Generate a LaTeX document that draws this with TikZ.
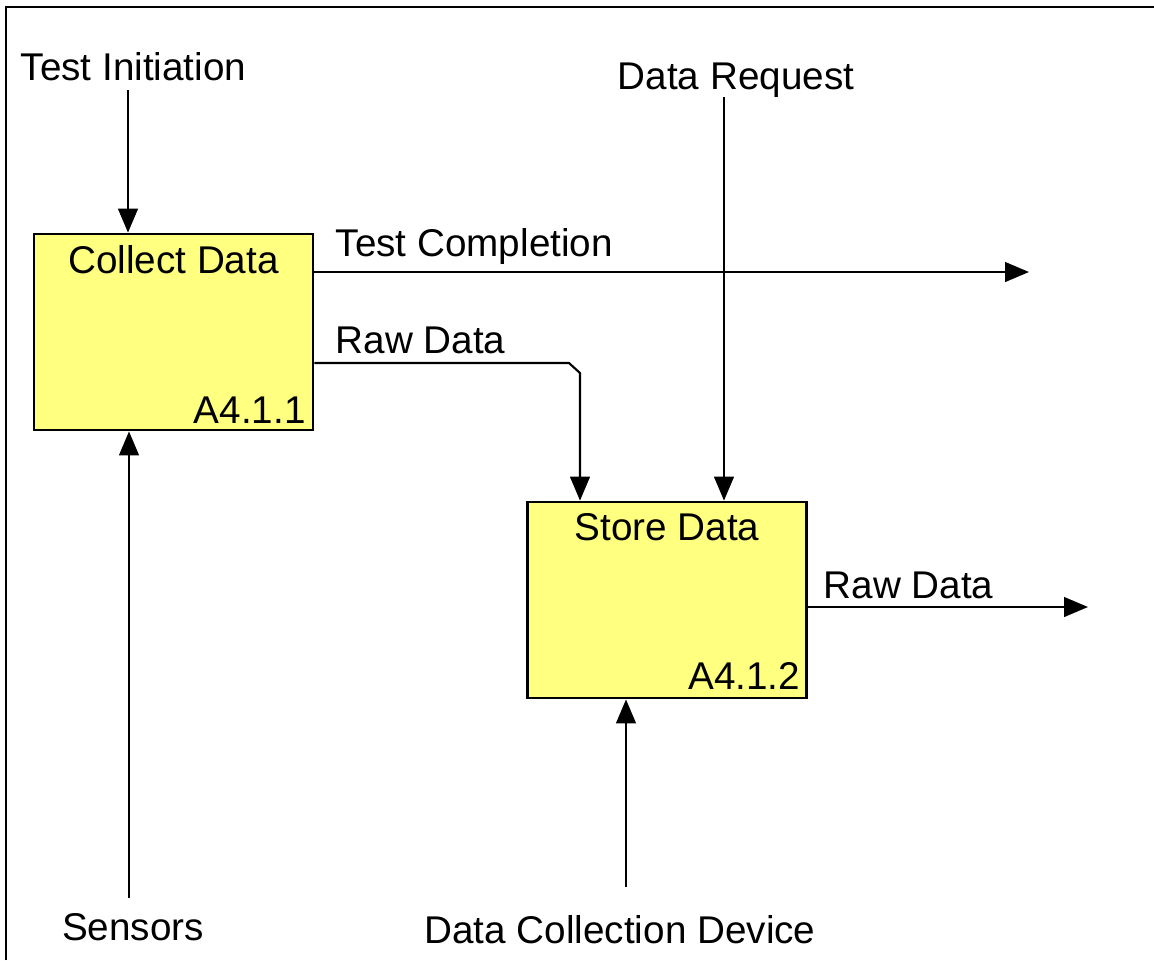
\documentclass[tikz,border=0pt]{standalone}
\usepackage{fontspec}
\setmainfont{Liberation Sans}
\usetikzlibrary{arrows.meta}
\definecolor{idefyellow}{RGB}{255,255,128}
\tikzset{
  idef box/.style={rectangle, draw=black, fill=idefyellow, line width=0.8pt, minimum width=2.79cm, minimum height=1.96cm, inner sep=0pt},
  idef flow/.style={-{Triangle[length=6.8pt,width=5.6pt]}, draw=black, line width=0.6pt},
  idef label/.style={inner sep=0pt, font=\fontsize{11}{13}\selectfont},
  idef frame/.style={draw=black, line width=0.7pt},
}

\begin{document}
\begin{tikzpicture}
    \useasboundingbox (0,0) rectangle (11.54,-9.60);
    \draw[idef frame] (0.06,-9.60) -- (0.06,-0.07) -- (11.54,-0.07);

    \node (collect) [idef box] at (1.735,-3.32) {};
    \node (store) [idef box] at (6.67,-6.00) {};
    \node (collecttitle) [idef label, anchor=base] at ([yshift=-0.41cm]collect.north) {Collect Data};
    \node (collectid) [idef label, anchor=base east] at ([xshift=-0.08cm, yshift=0.08cm]collect.south east) {A4.1.1};
    \node (storetitle) [idef label, anchor=base] at ([yshift=-0.40cm]store.north) {Store Data};
    \node (storeid) [idef label, anchor=base east] at ([xshift=-0.07cm, yshift=0.10cm]store.south east) {A4.1.2};

    \node (tinit) [idef label, anchor=base] at (1.335,-0.80) {Test Initiation};
    \node (dreq) [idef label, anchor=base] at (7.36,-0.89) {Data Request};
    \node (tcomp) [idef label, anchor=base west] at (3.35,-2.56) {Test Completion};
    \node (rawlab) [idef label, anchor=base west] at (3.35,-3.53) {Raw Data};
    \node (rawoutlab) [idef label, anchor=base west] at (8.23,-5.98) {Raw Data};
    \node (sens) [idef label, anchor=base] at (1.33,-9.40) {Sensors};
    \node (dcd) [idef label, anchor=base] at (6.20,-9.43) {Data Collection Device};

    % free ends of the flows
    \coordinate (tinitstart) at (1.28,-0.90);
    \coordinate (dreqstart) at (7.24,-0.97);
    \coordinate (tcompend) at (10.29,-2.72);
    \coordinate (rawbend) at (5.69,-3.63);
    \coordinate (rawdrop) at (5.80,-3.73);
    \coordinate (rawoutend) at (10.88,-6.07);
    \coordinate (sensstart) at (1.29,-8.98);
    \coordinate (dcdstart) at (6.26,-8.87);

    \draw[idef flow] (tinitstart) -- (tinitstart |- collect.north);
    \draw[idef flow] (collect.east |- tcompend) -- (tcompend);
    \draw[idef flow] (collect.east |- rawbend) -- (rawbend) -- (rawdrop) -- (rawdrop |- store.north);
    \draw[idef flow] (dreqstart) -- (dreqstart |- store.north);
    \draw[idef flow] (store.east |- rawoutend) -- (rawoutend);
    \draw[idef flow] (sensstart) -- (sensstart |- collect.south);
    \draw[idef flow] (dcdstart) -- (dcdstart |- store.south);
\end{tikzpicture}
\end{document}
